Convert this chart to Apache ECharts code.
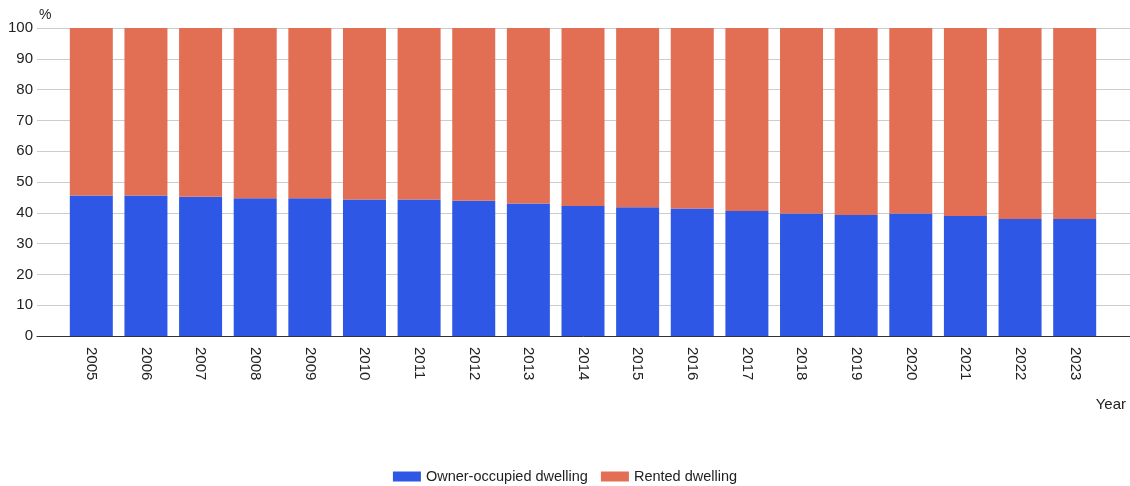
<!DOCTYPE html>
<html><head><meta charset="utf-8">
<script src="https://cdn.jsdelivr.net/npm/echarts@6/dist/echarts.min.js"></script>
<style>html,body{margin:0;padding:0;background:#fff}#c{width:1130px;height:486px}</style>
</head><body><div id="c"></div>
<script>
var years = ['2005','2006','2007','2008','2009','2010','2011','2012','2013','2014','2015','2016','2017','2018','2019','2020','2021','2022','2023'];
var owner = [45.6,45.6,45.2,44.7,44.7,44.3,44.3,43.9,43.0,42.2,41.8,41.4,40.6,39.8,39.3,39.8,39.0,38.0,38.0];
var rented = [54.4,54.4,54.8,55.3,55.3,55.7,55.7,56.1,57.0,57.8,58.2,58.6,59.4,60.2,60.7,60.2,61.0,62.0,62.0];
var yTicks = [0,10,20,30,40,50,60,70,80,90,100];

var chart = echarts.init(document.getElementById('c'));
var font = 'Liberation Sans, Arial, sans-serif';
var yMin = yTicks[0], yMax = yTicks[yTicks.length-1];
chart.setOption({
  animation:false,
  textStyle:{fontFamily:font},
  grid:[
    {left:37,right:0,top:28,bottom:150,containLabel:false},
    {left:64,right:28,top:28,bottom:150,containLabel:false}
  ],
  legend:{bottom:-3,left:'center',itemWidth:28,itemHeight:10,itemGap:13,icon:'rect',
    textStyle:{fontSize:14.5,color:'#222',fontFamily:font},
    data:['Owner-occupied dwelling','Rented dwelling']},
  xAxis:[
    {type:'value',gridIndex:0,min:0,max:1,
     axisLine:{show:true,onZero:false,lineStyle:{color:'#333',width:1}},
     axisTick:{show:false},splitLine:{show:false},axisLabel:{show:false}},
    {type:'category',gridIndex:1,data:years,
     axisLine:{show:false},axisTick:{show:false},
     axisLabel:{rotate:-90,margin:11,fontSize:15,color:'#222',interval:0}}
  ],
  yAxis:[
    {type:'value',gridIndex:0,min:yMin,max:yMax,interval:10,
     axisLine:{show:false},axisTick:{show:false},
     axisLabel:{fontSize:15,color:'#222',margin:4},
     splitLine:{lineStyle:{color:'#cccccc',width:1}}},
    {type:'value',gridIndex:1,min:yMin,max:yMax,interval:10,show:false,
     splitLine:{show:false}}
  ],
  graphic:[
    {type:'text',left:39,top:8,style:{text:'%',font:'14px '+font,fill:'#222'}},
    {type:'text',right:4,top:397,style:{text:'Year',font:'15px '+font,fill:'#222'}}
  ],
  series:[
    {name:'Owner-occupied dwelling',type:'bar',stack:'s',barWidth:43,
     xAxisIndex:1,yAxisIndex:1,
     itemStyle:{color:'#2e57e6'},data:owner},
    {name:'Rented dwelling',type:'bar',stack:'s',barWidth:43,
     xAxisIndex:1,yAxisIndex:1,
     itemStyle:{color:'#e26e53'},data:rented}
  ]
});
</script></body></html>
